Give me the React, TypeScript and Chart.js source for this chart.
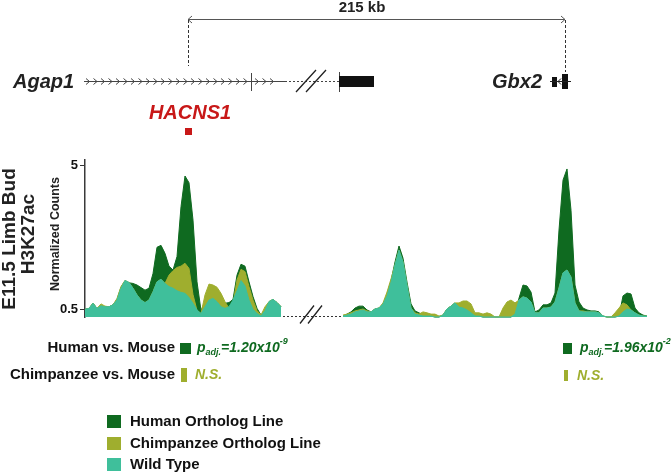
import React, { useEffect, useRef } from 'react';
import { Chart, registerables } from 'chart.js';

Chart.register(...registerables);

const FONT = '"Liberation Sans", Arial, Helvetica, sans-serif';

// Normalized H3K27ac counts per genomic bin (left window: Agap1 / HACNS1 region)
const HUMAN_LEFT = [0.49, 0.52, 0.68, 0.52, 0.6, 0.57, 0.57, 0.63, 0.8, 1.18,
  1.39, 1.32, 1.3, 1.25, 1.17, 1.09, 1.15, 1.61, 2.43, 2.49,
  2.24, 1.84, 1.72, 2.14, 3.7, 4.66, 4.45, 3.28, 1.35, 0.45,
  0.73, 1.15, 1.22, 1.04, 0.83, 0.68, 0.7, 0.8, 1.56, 1.9,
  1.84, 1.35, 0.89, 0.52, 0.31, 0.45, 0.73, 0.8, 0.7, 0.57];
const CHIMP_LEFT = [0.49, 0.52, 0.68, 0.52, 0.66, 0.59, 0.57, 0.63, 0.83, 1.2,
  1.39, 1.33, 1.15, 0.94, 0.78, 0.7, 0.78, 1.04, 1.35, 1.43,
  1.3, 1.56, 1.7, 1.8, 1.84, 1.93, 1.77, 0.95, 0.45, 0.36,
  0.94, 1.28, 1.25, 1.18, 0.99, 0.73, 0.52, 0.66, 1.41, 1.74,
  1.67, 1.2, 0.78, 0.45, 0.31, 0.57, 0.73, 0.8, 0.7, 0.57];
const WT_LEFT = [0.49, 0.52, 0.68, 0.52, 0.6, 0.57, 0.57, 0.63, 0.78, 1.15,
  1.39, 1.33, 1.15, 0.94, 0.78, 0.7, 0.78, 1.04, 1.35, 1.43,
  1.3, 1.2, 1.15, 1.07, 1.02, 0.99, 0.86, 0.68, 0.47, 0.36,
  0.57, 0.78, 0.83, 0.73, 0.57, 0.52, 0.57, 0.78, 1.07, 1.39,
  1.22, 0.78, 0.49, 0.36, 0.28, 0.45, 0.73, 0.8, 0.7, 0.57];

// Right window: Gbx2 region
const HUMAN_RIGHT = [0.28, 0.34, 0.41, 0.53, 0.59, 0.59, 0.47, 0.41, 0.5, 0.53,
  0.66, 0.94, 1.38, 1.97, 2.47, 2.09, 1.34, 0.66, 0.44, 0.38,
  0.31, 0.28, 0.28, 0.25, 0.25, 0.31, 0.5, 0.59, 0.69, 0.56,
  0.53, 0.47, 0.38, 0.28, 0.28, 0.25, 0.25, 0.25, 0.25, 0.25,
  0.25, 0.25, 0.25, 0.34, 0.84, 1.25, 1.22, 1.03, 0.41, 0.47,
  0.63, 0.63, 0.69, 1.0, 2.97, 4.53, 4.88, 3.59, 1.25, 0.72,
  0.53, 0.47, 0.44, 0.44, 0.41, 0.28, 0.25, 0.25, 0.25, 0.28,
  0.91, 1.0, 0.97, 0.53, 0.38, 0.31, 0.28];
const CHIMP_RIGHT = [0.31, 0.34, 0.38, 0.44, 0.47, 0.5, 0.44, 0.41, 0.5, 0.53,
  0.69, 1.03, 1.44, 1.88, 2.34, 1.97, 1.25, 0.53, 0.38, 0.34,
  0.41, 0.38, 0.34, 0.34, 0.28, 0.31, 0.5, 0.59, 0.69, 0.69,
  0.75, 0.75, 0.66, 0.38, 0.38, 0.34, 0.38, 0.34, 0.25, 0.25,
  0.53, 0.72, 0.78, 0.69, 0.78, 0.88, 0.84, 0.72, 0.38, 0.38,
  0.53, 0.53, 0.56, 0.72, 1.16, 1.63, 1.72, 1.5, 0.69, 0.44,
  0.44, 0.41, 0.41, 0.41, 0.38, 0.28, 0.25, 0.25, 0.38, 0.53,
  0.69, 0.63, 0.47, 0.38, 0.31, 0.28, 0.28];
const WT_RIGHT = [0.28, 0.31, 0.34, 0.41, 0.44, 0.47, 0.41, 0.41, 0.5, 0.53,
  0.66, 0.91, 1.34, 1.88, 2.34, 1.97, 1.25, 0.53, 0.34, 0.31,
  0.28, 0.28, 0.28, 0.25, 0.25, 0.31, 0.5, 0.59, 0.69, 0.56,
  0.53, 0.47, 0.38, 0.28, 0.28, 0.25, 0.25, 0.25, 0.25, 0.25,
  0.25, 0.25, 0.25, 0.34, 0.78, 0.88, 0.84, 0.72, 0.38, 0.38,
  0.53, 0.53, 0.56, 0.72, 1.16, 1.63, 1.72, 1.5, 0.69, 0.44,
  0.41, 0.41, 0.41, 0.41, 0.38, 0.28, 0.25, 0.25, 0.25, 0.28,
  0.41, 0.5, 0.47, 0.38, 0.31, 0.28, 0.28];

const LEFT_START_BIN = 0;
const RIGHT_START_BIN = 64.5;
const LAST_BIN = 140.5;
const HACNS1_BIN = 25.75;
const GBX2_BIN = 120;
const Y_MIN = 0.25;
const Y_MAX = 5.16;
const Y_TICKS = [0.5, 5];

const SERIES_NAMES = ['Human Ortholog Line', 'Chimpanzee Ortholog Line', 'Wild Type'];
const SERIES_COLORS = ['#0f6a20', '#9fae2e', '#3fbf9b'];
const COMPARISONS = ['Human vs. Mouse', 'Chimpanzee vs. Mouse'];
const P_LEFT = { mantissa: '1.20x10', exponent: '-9' };
const P_RIGHT = { mantissa: '1.96x10', exponent: '-2' };
const NS_LABEL = 'N.S.';
const DISTANCE_LABEL = '215 kb';

const RED = '#c81818';

function pts(arr: number[], start: number) {
  return arr.map((v, i) => ({ x: start + i, y: v }));
}

function txt(ctx: CanvasRenderingContext2D, s: string, x: number, y: number, font: string, color: string, align: CanvasTextAlign = 'left') {
  ctx.font = font;
  ctx.fillStyle = color;
  ctx.textAlign = align;
  ctx.textBaseline = 'middle';
  ctx.fillText(s, x, y);
}

function drawP(ctx: CanvasRenderingContext2D, x: number, y: number, p: { mantissa: string; exponent: string }, color: string) {
  const big = `italic bold 14px ${FONT}`;
  const small = `italic bold 9px ${FONT}`;
  let cx = x;
  txt(ctx, 'p', cx, y, big, color);
  cx += ctx.measureText('p').width;
  txt(ctx, 'adj.', cx, y + 5, small, color);
  cx += ctx.measureText('adj.').width;
  txt(ctx, '=' + p.mantissa, cx, y, big, color);
  cx += ctx.measureText('=' + p.mantissa).width;
  txt(ctx, p.exponent, cx, y - 6, small, color);
}

const overlayPlugin = {
  id: 'overlay',
  afterDraw(chart: any) {
    const ctx: CanvasRenderingContext2D = chart.ctx;
    const xs = chart.scales.x;
    const ys = chart.scales.y;
    const area = chart.chartArea;
    ctx.save();

    const hx = xs.getPixelForValue(HACNS1_BIN);
    const gx = xs.getPixelForValue(GBX2_BIN);

    // ---- distance arrow ----
    ctx.strokeStyle = '#555';
    ctx.lineWidth = 1;
    ctx.beginPath();
    ctx.moveTo(hx, 19.5);
    ctx.lineTo(gx, 19.5);
    ctx.moveTo(hx + 4, 16);
    ctx.lineTo(hx, 19.5);
    ctx.lineTo(hx + 4, 23);
    ctx.moveTo(gx - 4, 16);
    ctx.lineTo(gx, 19.5);
    ctx.lineTo(gx - 4, 23);
    ctx.stroke();
    txt(ctx, DISTANCE_LABEL, 362, 8, `bold 15px ${FONT}`, '#222', 'center');
    ctx.setLineDash([3, 2]);
    ctx.strokeStyle = '#333';
    ctx.beginPath();
    ctx.moveTo(hx + 0.5, 20);
    ctx.lineTo(hx + 0.5, 66);
    ctx.moveTo(gx + 0.5, 20);
    ctx.lineTo(gx + 0.5, 72);
    ctx.stroke();
    ctx.setLineDash([]);

    // ---- gene track ----
    const gy = 81.5;
    txt(ctx, 'Agap1', 13, gy + 1, `italic bold 20px ${FONT}`, '#222');
    txt(ctx, 'Gbx2', 492, gy + 1, `italic bold 20px ${FONT}`, '#222');
    ctx.strokeStyle = '#444';
    ctx.lineWidth = 1;
    ctx.beginPath();
    ctx.moveTo(84, gy);
    ctx.lineTo(285, gy);
    ctx.stroke();
    ctx.beginPath();
    const chev = (cx: number) => {
      ctx.moveTo(cx - 2, gy - 3);
      ctx.lineTo(cx + 1.5, gy);
      ctx.lineTo(cx - 2, gy + 3);
    };
    for (let k = 0; k < 22; k++) chev(88 + 7.5 * k);
    [257, 264.5, 272].forEach(chev);
    ctx.moveTo(251.5, 73);
    ctx.lineTo(251.5, 91);
    ctx.moveTo(339.5, 72);
    ctx.lineTo(339.5, 92);
    ctx.stroke();
    ctx.setLineDash([2, 2]);
    ctx.beginPath();
    ctx.moveTo(285, gy);
    ctx.lineTo(339, gy);
    ctx.stroke();
    ctx.setLineDash([]);
    ctx.strokeStyle = '#222';
    ctx.lineWidth = 1.3;
    ctx.beginPath();
    ctx.moveTo(296, 92);
    ctx.lineTo(316, 70);
    ctx.moveTo(306, 92);
    ctx.lineTo(326, 70);
    ctx.stroke();
    ctx.fillStyle = '#111';
    ctx.fillRect(339, 76, 35, 11);
    // Gbx2 glyph
    ctx.fillRect(552, 77, 5, 10);
    ctx.fillRect(562, 74, 6, 15);
    ctx.strokeStyle = '#222';
    ctx.lineWidth = 1;
    ctx.beginPath();
    ctx.moveTo(550, gy);
    ctx.lineTo(571, gy);
    ctx.moveTo(561, gy - 3);
    ctx.lineTo(558, gy);
    ctx.lineTo(561, gy + 3);
    ctx.stroke();

    // ---- HACNS1 ----
    txt(ctx, 'HACNS1', hx + 2, 113, `italic bold 20px ${FONT}`, RED, 'center');
    ctx.fillStyle = RED;
    ctx.fillRect(hx - 3, 128, 7, 7);

    // ---- side labels ----
    const rot = (s: string, x: number, y: number, font: string) => {
      ctx.save();
      ctx.translate(x, y);
      ctx.rotate(-Math.PI / 2);
      txt(ctx, s, 0, 0, font, '#222', 'center');
      ctx.restore();
    };
    rot('E11.5 Limb Bud', 10, 239, `bold 19px ${FONT}`);
    rot('H3K27ac', 29, 234, `bold 19px ${FONT}`);
    rot('Normalized Counts', 56, 234, `bold 12.5px ${FONT}`);

    // ---- break on baseline ----
    const bL = xs.getPixelForValue(LEFT_START_BIN + WT_LEFT.length - 1);
    const bR = xs.getPixelForValue(RIGHT_START_BIN);
    const by = area.bottom - 0.5;
    ctx.strokeStyle = '#333';
    ctx.lineWidth = 1;
    ctx.setLineDash([2, 2]);
    ctx.beginPath();
    ctx.moveTo(bL + 2, by);
    ctx.lineTo(bR - 1, by);
    ctx.stroke();
    ctx.setLineDash([]);
    ctx.lineWidth = 1.3;
    ctx.strokeStyle = '#222';
    ctx.beginPath();
    ctx.moveTo(300, by + 7);
    ctx.lineTo(314, by - 11);
    ctx.moveTo(308, by + 7);
    ctx.lineTo(322, by - 11);
    ctx.stroke();

    // ---- comparison rows ----
    const r1 = 348;
    const r2 = 375;
    const lbl = `bold 15px ${FONT}`;
    txt(ctx, COMPARISONS[0], 175, r1, lbl, '#111', 'right');
    txt(ctx, COMPARISONS[1], 175, r2, lbl, '#111', 'right');
    ctx.fillStyle = SERIES_COLORS[0];
    ctx.fillRect(180, 343, 11, 11);
    ctx.fillRect(563, 343, 9, 11);
    ctx.fillStyle = SERIES_COLORS[1];
    ctx.fillRect(181, 368, 6, 14);
    ctx.fillRect(564, 370, 4, 11);
    drawP(ctx, 197, r1, P_LEFT, SERIES_COLORS[0]);
    drawP(ctx, 580, r1, P_RIGHT, SERIES_COLORS[0]);
    txt(ctx, NS_LABEL, 195, r2, `italic bold 14px ${FONT}`, SERIES_COLORS[1]);
    txt(ctx, NS_LABEL, 577, r2 + 1, `italic bold 14px ${FONT}`, SERIES_COLORS[1]);

    // ---- legend ----
    const ly = [422, 444, 465];
    SERIES_NAMES.forEach((name, i) => {
      ctx.fillStyle = SERIES_COLORS[i];
      ctx.fillRect(107, ly[i] - 7, 14, 13);
      txt(ctx, name, 130, ly[i], `bold 15px ${FONT}`, '#111');
    });

    ctx.restore();
  },
};

export default function App() {
  const ref = useRef<HTMLCanvasElement | null>(null);
  useEffect(() => {
    if (!ref.current) return;
    const mk = (data: number[], start: number, color: string) => ({
      data: pts(data, start),
      fill: 'start',
      backgroundColor: color,
      borderColor: color,
      borderWidth: 1,
      pointRadius: 0,
      tension: 0,
      clip: false,
    });
    const chart = new Chart(ref.current, {
      type: 'line',
      data: {
        datasets: [
          mk(WT_LEFT, LEFT_START_BIN, SERIES_COLORS[2]),
          mk(WT_RIGHT, RIGHT_START_BIN, SERIES_COLORS[2]),
          mk(CHIMP_LEFT, LEFT_START_BIN, SERIES_COLORS[1]),
          mk(CHIMP_RIGHT, RIGHT_START_BIN, SERIES_COLORS[1]),
          mk(HUMAN_LEFT, LEFT_START_BIN, SERIES_COLORS[0]),
          mk(HUMAN_RIGHT, RIGHT_START_BIN, SERIES_COLORS[0]),
        ] as any,
      },
      options: {
        responsive: false,
        animation: false,
        devicePixelRatio: 1,
        layout: { padding: { left: 0, right: 25, top: 160, bottom: 158 } },
        plugins: { legend: { display: false }, tooltip: { enabled: false } },
        scales: {
          x: { type: 'linear', min: LEFT_START_BIN, max: LAST_BIN, display: false },
          y: {
            type: 'linear',
            min: Y_MIN,
            max: Y_MAX,
            afterBuildTicks: (s: any) => {
              s.ticks = Y_TICKS.map((v) => ({ value: v }));
            },
            afterFit: (s: any) => {
              s.width = 85;
            },
            grid: { display: true, drawOnChartArea: false, drawTicks: true, tickLength: 5, color: '#333', lineWidth: 1 },
            border: { display: true, color: '#3a3a3a', width: 1.5 },
            ticks: {
              font: { family: FONT, size: 13, weight: 'bold' },
              color: '#111',
              padding: 2,
              callback: (v: any) => String(v),
            },
          },
        },
      } as any,
      plugins: [overlayPlugin],
    });
    return () => chart.destroy();
  }, []);
  return (
    <div style={{ position: 'absolute', left: 0, top: 0, width: 672, height: 475, background: '#fff' }}>
      <canvas ref={ref} width={672} height={475} style={{ display: 'block' }} />
    </div>
  );
}
